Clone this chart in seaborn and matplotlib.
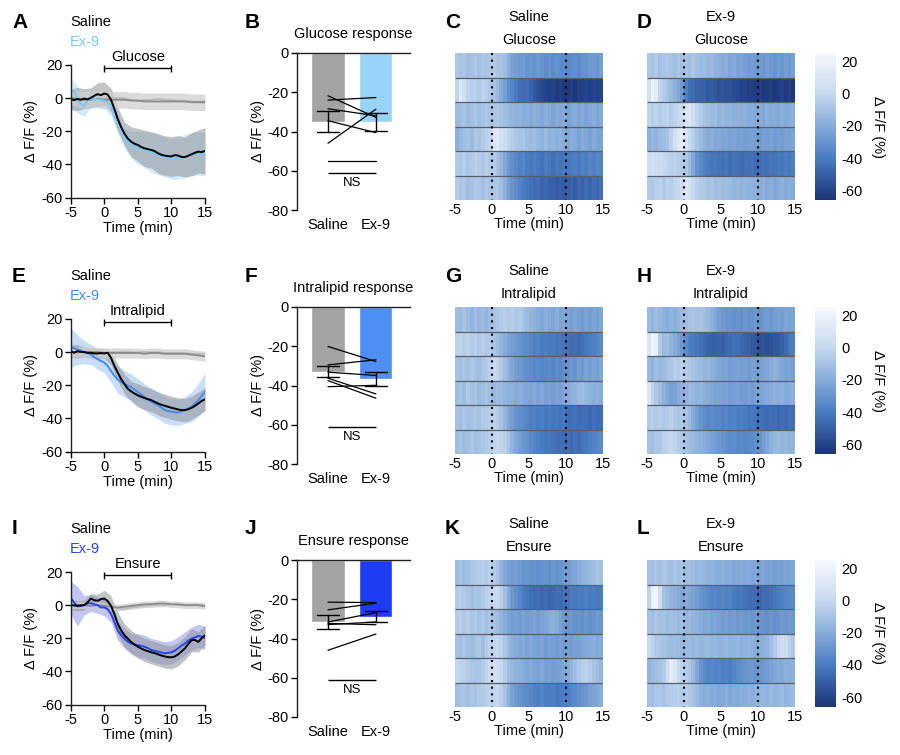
import numpy as np
import pandas as pd
import matplotlib
matplotlib.use('Agg')
import matplotlib.pyplot as plt
import seaborn as sns
from matplotlib.colors import LinearSegmentedColormap

# ---------------- data ----------------
t_fine = np.arange(-5, 15.01, 0.5)
t_coarse = np.arange(-5, 15.01, 1.0)

# traces (0.5 min steps), sem / controls (1 min steps)
glu_sal = [-0.6, -1.2, -0.5, -1.0, -0.3, -0.8, 0.2, 1.4, 2.4, 1.8, 2.8, 2.2, -1.0, -6.5, -12.5, -17.4, -21.4, -24.4,
           -26.3, -27.5, -28.3, -29.5, -30.3, -30.8, -31.3, -32.0, -33.3, -34.2, -34.7, -35.0, -35.2, -34.4, -34.7,
           -35.5, -35.6, -34.8, -33.9, -33.0, -32.3, -32.6, -31.9]
glu_ex9 = [3.0, 4.5, -1.0, -3.5, -5.0, -1.0, -0.5, -0.5, -0.8, -1.2, -1.6, -2.4, -4.6, -9.5, -15.4, -20.4, -24.4, -26.5,
           -28.3, -29.3, -29.9, -30.5, -31.0, -32.0, -32.9, -33.5, -34.3, -35.0, -35.8, -36.3, -36.8, -36.5, -36.0,
           -35.5, -35.0, -34.5, -34.0, -33.8, -33.5, -33.8, -33.9]
glu_sal_sem = [6, 7, 6, 6, 7, 7, 7, 7, 7, 9, 10, 11, 11, 12, 12, 12, 12, 12, 13, 13, 14]
glu_ex9_sem = [10, 8, 6, 5, 5, 5, 6, 6, 6, 8, 10, 11, 12, 12, 12, 12, 13, 13, 13, 13, 13]
glu_ctrl_a = [0, -0.5, -1, -1, -0.5, -1, -1, -1, -1, -1.5, -1.5, -2, -2, -2, -2, -2, -2, -2, -2.5, -2.5, -2.5]
glu_ctrl_b = [0, 0, 0, 0, 0, 0, 0.5, 0, 0, -1, -1.5, -1, -1, -0.5, -1, -1, -1.5, -1.5, -2, -2, -2]
glu_ctrl_sem = [4, 5, 5, 5, 5, 5, 5, 5, 5, 5, 5, 5, 5, 5, 5, 5, 5, 5, 5, 5, 5]

lip_sal = [0.6, -0.4, 0.6, 0.2, 0.0, -0.4, -0.4, -0.8, -0.8, -0.6, -0.8, -0.4, -3.4, -8.3, -12.3, -16.2, -19.2, -22.1,
           -23.7, -25.0, -26.1, -27.0, -27.7, -28.4, -29.0, -30.0, -31.0, -31.8, -32.4, -33.0, -33.6, -34.1, -34.6,
           -35.0, -35.0, -34.5, -33.6, -32.5, -31.0, -29.5, -28.5]
lip_ex9 = [2.6, 2.4, 1.6, 1.0, 0.0, -0.6, -1.4, -3.0, -4.3, -5.3, -6.3, -8.3, -11.3, -14.2, -16.6, -18.0, -19.2, -20.2,
           -21.1, -22.6, -24.1, -25.6, -27.1, -28.6, -30.0, -31.0, -32.0, -33.5, -35.0, -35.5, -36.0, -36.2, -36.4,
           -35.8, -35.0, -34.0, -33.0, -31.0, -29.0, -26.5, -23.7]
lip_sal_sem = [4, 4, 3, 3, 3, 3, 4, 5, 6, 6, 7, 7, 7, 7, 7, 7, 7, 7, 7, 7, 7]
lip_ex9_sem = [12, 9, 7, 6, 6, 6, 7, 8, 8, 8, 8, 8, 8, 8, 8, 8, 8, 8, 9, 10, 11]
lip_ctrl_a = [0, 0, 0, 0, 0, -0.5, -0.5, -0.5, -0.5, -0.5, -0.5, -1, -0.5, -0.5, -1, -1, -1, -1, -1.5, -2, -2.5]
lip_ctrl_b = [0, 0, 0, 0, 0, 0, 0, 0, 0.5, 0, 0, 0, 0, 0, -0.5, -0.5, -0.5, -0.5, -1, -1, -1]
lip_ctrl_sem = [3, 3, 3, 3, 3, 3, 3, 3, 3, 3, 3, 3, 3, 3, 3, 3, 3, 3, 3, 3, 3]

ens_sal = [0.0, -0.2, -0.4, -0.2, 0.0, 1.6, 4.0, 3.0, 2.6, 3.6, 4.0, 2.5, -0.4, -5.3, -11.3, -15.2, -18.2, -20.2,
           -22.2, -23.8, -25.1, -26.2, -27.1, -27.8, -28.5, -29.0, -29.7, -30.4, -31.0, -31.4, -31.5, -31.0, -29.7,
           -28.0, -26.1, -23.5, -21.2, -21.0, -22.2, -20.0, -18.2]
ens_ex9 = [4.6, 1.6, -0.8, -0.5, 0.0, 1.0, 1.2, 0.5, 0.0, -1.4, -1.4, -2.4, -5.3, -10.3, -15.2, -18.0, -20.2, -22.0,
           -23.2, -23.8, -24.2, -24.6, -25.1, -26.0, -27.1, -27.6, -28.1, -28.6, -29.1, -28.8, -28.5, -27.5, -26.1,
           -24.5, -23.2, -21.5, -20.2, -19.5, -18.6, -19.0, -19.8]
ens_sal_sem = [3, 3, 3, 3, 4, 5, 6, 7, 7, 7, 7, 7, 7, 7, 7, 7, 7, 7, 7, 6, 6]
ens_ex9_sem = [10, 12, 6, 5, 5, 5, 5, 6, 6, 6, 7, 7, 7, 7, 7, 7, 7, 7, 7, 7, 7]
ens_ctrl_a = [0, 0, 0, -0.5, 0, -0.5, -1, -1.5, -1, -0.5, 0, 0.5, 0.5, 1, 1, 0.5, 0.5, 0, 0, 0, -0.5]
ens_ctrl_b = [0, 0, 0, 0, 0, 0, -0.5, -2, -2.5, -1.5, -1, -0.5, 0, 0, 0, 0.5, 0, 0, 0, 0, -0.5]
ens_ctrl_sem = [2, 2, 2, 2, 2, 2, 2, 2, 2, 2, 2, 2, 2, 2, 2, 2, 2, 2, 2, 2, 2]

# paired responses per mouse
glu_resp_sal = [-21.8, -24.0, -28.4, -34.5, -46.0, -55.0]
glu_resp_ex9 = [-32.8, -22.7, -32.0, -40.6, -28.6, -55.0]
lip_resp_sal = [-20.1, -29.5, -33.2, -36.3, -37.5, -40.6]
lip_resp_ex9 = [-27.8, -26.9, -34.9, -44.3, -46.5, -39.9]
ens_resp_sal = [-21.5, -25.4, -31.6, -32.3, -32.9, -46.0]
ens_resp_ex9 = [-21.7, -22.0, -26.8, -33.0, -31.6, -37.7]

# heatmaps: 6 mice x 40 bins (0.5 min, -5 to 15 min)
glu_sal_heat = [
    [-8, -10, -9, -12, -10, -8, -11, -9, -10, -8, -7, -9, -10, -12, -18, -24, -26, -28, -27, -30,
     -29, -31, -28, -30, -32, -30, -33, -31, -34, -33, -35, -33, -32, -34, -31, -30, -28, -27, -29, -26],
    [-2, 12, 5, -3, -5, -4, -6, -3, -5, -8, -10, -14, -20, -26, -32, -36, -40, -44, -46, -45,
     -48, -52, -55, -58, -60, -62, -61, -63, -62, -64, -63, -62, -64, -61, -62, -60, -62, -59, -61, -60],
    [-14, -12, -10, -13, -11, -9, -12, -10, -8, -10, -9, -8, -10, -12, -14, -16, -18, -17, -20, -19,
     -21, -18, -20, -22, -19, -21, -23, -20, -22, -21, -24, -22, -20, -23, -21, -24, -22, -20, -23, -21],
    [-18, -15, -12, -10, -14, -8, -10, -6, -4, -2, 8, 12, 6, 2, -2, -5, -8, -10, -9, -12,
     -14, -12, -15, -17, -14, -18, -16, -19, -17, -20, -22, -19, -21, -24, -20, -22, -25, -21, -23, -24],
    [-6, -8, -5, -9, -7, -4, -6, -8, -5, -7, -6, -10, -15, -22, -28, -32, -35, -38, -36, -40,
     -42, -39, -41, -43, -40, -42, -44, -41, -43, -42, -42, -40, -38, -41, -37, -39, -36, -38, -35, -37],
    [-6, -9, -8, -12, -10, -7, -9, -11, -8, -10, -9, -8, -12, -18, -25, -30, -34, -37, -40, -42,
     -44, -46, -45, -48, -47, -50, -49, -51, -50, -52, -50, -48, -51, -47, -49, -46, -48, -45, -47, -44],
]
glu_ex9_heat = [
    [-8, -10, -7, -11, -9, -8, -10, -12, -9, -11, -10, -12, -9, -11, -13, -12, -15, -14, -17, -18,
     -20, -19, -22, -21, -24, -23, -25, -27, -26, -28, -27, -29, -26, -28, -30, -27, -29, -26, -28, -25],
    [5, 20, 14, -2, -6, -10, -14, -18, -22, -28, -38, -44, -46, -48, -50, -49, -52, -51, -53, -55,
     -54, -56, -55, -57, -58, -60, -59, -61, -62, -63, -62, -64, -63, -62, -64, -63, -61, -63, -62, -64],
    [-2, -5, -3, -6, -4, -2, -5, -3, -1, 2, 8, 10, 5, -2, -6, -10, -12, -14, -13, -16,
     -15, -17, -16, -18, -17, -19, -18, -20, -19, -21, -20, -22, -19, -21, -20, -22, -19, -21, -20, -18],
    [-18, -15, -17, -14, -12, -10, -4, 6, 12, 14, 8, 2, -4, -10, -14, -18, -20, -19, -22, -21,
     -23, -22, -24, -23, -25, -24, -26, -25, -24, -26, -27, -25, -26, -24, -27, -25, -26, -24, -25, -23],
    [4, 6, 3, 2, 0, -2, -4, -3, -5, -6, -8, -14, -22, -30, -35, -38, -40, -42, -41, -43,
     -44, -42, -45, -43, -44, -46, -44, -45, -43, -46, -45, -43, -44, -42, -43, -41, -42, -40, -41, -39],
    [-6, -8, -5, -4, -7, -3, -5, -2, 0, 4, 10, 6, 0, -4, -6, -8, -10, -9, -12, -11,
     -13, -12, -14, -16, -15, -17, -16, -18, -17, -19, -20, -18, -21, -19, -22, -20, -18, -21, -19, -20],
]
lip_sal_heat = [
    [-12, -14, -10, -13, -16, -12, -15, -14, -16, -13, -10, -8, -6, -5, -7, -5, -8, -6, -10, -14,
     -16, -18, -20, -22, -19, -21, -23, -20, -24, -22, -24, -26, -23, -25, -27, -24, -26, -23, -25, -22],
    [-4, -2, -5, -3, -6, -4, -7, -5, -8, -6, -9, -12, -16, -20, -24, -26, -28, -30, -32, -34,
     -36, -38, -37, -40, -39, -41, -40, -42, -41, -43, -44, -46, -45, -47, -44, -42, -40, -38, -36, -34],
    [-10, -12, -9, -11, -8, -10, -12, -9, -6, -4, 0, -2, -6, -12, -18, -22, -26, -28, -30, -32,
     -33, -35, -34, -36, -35, -34, -36, -33, -35, -32, -30, -28, -30, -26, -28, -24, -26, -23, -25, -22],
    [-12, -10, -13, -8, -11, -9, -14, -12, -10, -13, -15, -12, -14, -16, -18, -17, -20, -19, -21, -22,
     -23, -21, -24, -22, -25, -23, -26, -24, -25, -22, -20, -18, -16, -14, -12, -15, -17, -19, -18, -20],
    [-10, -12, -9, -11, -10, -8, -10, -7, -6, -5, -4, -6, -10, -16, -22, -26, -30, -32, -34, -36,
     -38, -37, -40, -39, -41, -40, -42, -41, -43, -42, -44, -45, -43, -46, -44, -45, -47, -44, -46, -45],
    [-12, -10, -13, -11, -9, -12, -10, -8, -7, -5, -2, 0, -2, -4, -10, -16, -22, -26, -29, -31,
     -34, -36, -38, -40, -42, -41, -43, -45, -44, -46, -45, -47, -44, -46, -43, -41, -39, -37, -36, -34],
]
lip_ex9_heat = [
    [-14, -16, -13, -15, -18, -20, -17, -19, -16, -14, -12, -10, -9, -11, -10, -12, -14, -18, -22, -26,
     -28, -30, -29, -31, -30, -32, -29, -31, -30, -28, -30, -28, -27, -29, -26, -24, -26, -23, -25, -24],
    [10, 22, 18, -6, -14, -12, -16, -20, -24, -28, -34, -38, -40, -42, -44, -46, -48, -50, -49, -48,
     -50, -47, -46, -44, -45, -47, -48, -50, -52, -53, -55, -54, -56, -55, -53, -52, -50, -46, -42, -40],
    [-14, -16, -12, -15, -13, -10, -8, -5, -6, -4, -6, -8, -10, -12, -14, -16, -15, -18, -20, -22,
     -24, -23, -26, -25, -24, -26, -25, -27, -24, -26, -25, -23, -22, -20, -18, -20, -22, -24, -23, -25],
    [10, -2, -8, -12, -18, -22, -25, -24, -20, -18, -16, -14, -15, -17, -16, -18, -20, -22, -24, -23,
     -25, -24, -26, -25, -24, -27, -26, -25, -27, -24, -23, -22, -21, -20, -18, -20, -19, -21, -20, -18],
    [-6, -4, -7, -5, -8, -6, -4, -7, -9, -8, -10, -14, -20, -26, -30, -33, -35, -34, -36, -35,
     -37, -36, -38, -37, -39, -38, -40, -42, -41, -43, -44, -45, -46, -44, -45, -47, -45, -46, -44, -45],
    [-10, -12, -9, -8, -4, -2, 0, -2, -5, -8, -10, -12, -14, -16, -18, -20, -22, -24, -26, -28,
     -30, -32, -34, -33, -35, -34, -36, -35, -34, -32, -30, -26, -22, -18, -15, -14, -16, -15, -17, -16],
]
ens_sal_heat = [
    [-12, -10, -13, -11, -9, -8, -6, -5, -7, -4, -6, -10, -16, -22, -25, -27, -26, -28, -30, -29,
     -31, -30, -32, -31, -30, -32, -29, -31, -30, -28, -26, -24, -22, -20, -18, -16, -14, -12, -10, -11],
    [-6, -4, -7, -9, -11, -8, -10, -7, -4, -2, 0, 2, -4, -12, -20, -28, -32, -36, -40, -42,
     -44, -46, -45, -47, -46, -48, -47, -45, -46, -44, -42, -40, -41, -39, -40, -38, -40, -39, -41, -40],
    [-6, -4, -8, -5, -9, -7, -10, -8, -11, -9, -10, -12, -16, -20, -24, -26, -25, -27, -24, -26,
     -25, -23, -26, -24, -22, -20, -18, -20, -24, -28, -30, -29, -31, -30, -32, -29, -31, -30, -28, -29],
    [-10, -12, -9, -11, -13, -10, -8, -12, -6, -4, -2, 0, -3, -8, -14, -18, -20, -22, -21, -23,
     -22, -24, -25, -23, -26, -24, -25, -26, -24, -27, -25, -26, -24, -25, -22, -21, -20, -19, -21, -20],
    [0, -2, -4, -6, -8, -10, -9, -6, -2, 2, 5, 4, 0, -6, -12, -15, -17, -18, -20, -22,
     -21, -23, -24, -22, -25, -24, -26, -25, -24, -22, -20, -16, -12, -8, -5, -4, -6, -10, -12, -15],
    [-12, -10, -9, -11, -8, -10, -7, -6, -4, -3, -2, 0, -4, -10, -18, -24, -28, -30, -32, -34,
     -35, -37, -38, -36, -39, -40, -38, -41, -40, -39, -38, -36, -34, -32, -30, -28, -25, -23, -22, -20],
]
ens_ex9_heat = [
    [-10, -12, -9, -11, -8, -10, -12, -9, -11, -10, -12, -11, -13, -15, -14, -16, -18, -17, -19, -20,
     -19, -21, -20, -22, -21, -20, -22, -21, -23, -22, -24, -23, -25, -24, -26, -24, -25, -23, -24, -22],
    [-2, 18, 22, 4, -10, -14, -16, -18, -20, -22, -20, -22, -24, -26, -30, -32, -34, -36, -35, -37,
     -36, -38, -37, -40, -42, -41, -43, -44, -45, -46, -47, -45, -46, -44, -42, -40, -38, -36, -35, -34],
    [-10, -12, -9, -11, -10, -13, -11, -12, -14, -13, -15, -14, -16, -18, -20, -22, -21, -24, -23, -25,
     -26, -25, -27, -26, -28, -27, -29, -28, -30, -29, -31, -30, -32, -29, -31, -30, -28, -29, -27, -28],
    [2, -2, -6, -8, -10, -12, -14, -12, -13, -15, -14, -13, -15, -14, -16, -15, -14, -16, -15, -17,
     -16, -15, -17, -16, -15, -18, -17, -16, -18, -20, -19, -18, -16, -12, -6, 0, 4, 2, -4, -8],
    [-16, -14, -12, -10, -6, 4, 14, 10, 0, -4, -6, -8, -14, -22, -30, -34, -36, -35, -37, -36,
     -38, -37, -39, -36, -34, -32, -30, -29, -28, -30, -29, -28, -26, -24, -22, -20, -21, -19, -20, -18],
    [-10, -12, -9, -8, -10, -7, -6, -5, -4, -6, -5, -7, -10, -14, -18, -20, -19, -21, -20, -22,
     -21, -19, -22, -20, -21, -19, -20, -18, -19, -17, -16, -15, -17, -14, -16, -15, -14, -16, -15, -13],
]

stimuli = ['Glucose', 'Intralipid', 'Ensure']
ex9_line_colors = ['#78c8f5', '#3f8cf0', '#2343f0']
ex9_band_colors = ['#d3eaf9', '#c9ddf8', '#c3c6f0']
ex9_bar_colors = ['#9ad3fa', '#4d8ff5', '#1f3cf5']
saline_gray = '#a3a3a3'

# ---------------- style ----------------
sns.set_style('ticks')
plt.rcParams['font.family'] = ['Liberation Sans', 'DejaVu Sans']
plt.rcParams['font.size'] = 10.5
plt.rcParams['axes.unicode_minus'] = False
plt.rcParams['axes.linewidth'] = 1.0
plt.rcParams['axes.edgecolor'] = '#222222'
for k in ['text.color', 'axes.labelcolor', 'xtick.color', 'ytick.color']:
    plt.rcParams[k] = 'black'

cmap = LinearSegmentedColormap.from_list('dff', [
    (0.0, '#1c3573'), (0.066, '#24448a'), (0.286, '#4a7cc2'),
    (0.505, '#86acd9'), (0.725, '#c6d9ef'), (1.0, '#f7f9fd')])

W, H = 900, 755
fig = plt.figure(figsize=(9, 7.55), dpi=100)


def box(x0, y0, x1, y1):
    return fig.add_axes([x0 / W, 1 - y1 / H, (x1 - x0) / W, (y1 - y0) / H])


def ftext(x, y, s, **kw):
    fig.text(x / W, 1 - y / H, s, **kw)


def trace_panel(ax, sal, ex9, sal_sem, ex9_sem, ca, cb, c_sem, i):
    sal = np.array(sal); ex9 = np.array(ex9)
    ca = np.array(ca); cb = np.array(cb)
    ax.fill_between(t_coarse, ex9[::2] - ex9_sem, ex9[::2] + ex9_sem, color=ex9_band_colors[i], lw=0)
    ax.fill_between(t_coarse, sal[::2] - sal_sem, sal[::2] + sal_sem, color='#8f949a', alpha=0.55, lw=0)
    ax.fill_between(t_coarse, ca - c_sem, ca + c_sem, color='#cfcfcf', alpha=0.75, lw=0)
    sns.lineplot(x=t_coarse, y=cb, color='#bdbdbd', lw=1.3, ax=ax)
    sns.lineplot(x=t_coarse, y=ca, color='#8a8a8a', lw=1.3, ax=ax)
    sns.lineplot(x=t_fine, y=ex9, color=ex9_line_colors[i], lw=1.4, ax=ax)
    sns.lineplot(x=t_fine, y=sal, color='black', lw=1.4, ax=ax)
    ax.set_xlim(-5, 15)
    ax.set_ylim(-60, 20)
    ax.set_xticks([-5, 0, 5, 10, 15])
    ax.set_yticks([20, 0, -20, -40, -60])
    ax.tick_params(direction='out', length=4, width=1, pad=2)
    ax.set_xlabel('Time (min)', labelpad=1)
    ax.set_ylabel('Δ F/F (%)', labelpad=2)
    sns.despine(ax=ax)
    # stimulus bar
    ax.hlines(18, 0, 10, color='black', lw=1, clip_on=False)
    ax.vlines([0, 10], 16, 20, color='black', lw=1, clip_on=False)
    ax.text(5, 20.5, stimuli[i], ha='center', va='bottom')


def bar_panel(ax, sal, ex9, i):
    df = pd.DataFrame({'cond': ['Saline'] * len(sal) + ['Ex-9'] * len(ex9),
                       'value': list(sal) + list(ex9)})
    sns.barplot(data=df, x='cond', y='value', hue='cond', order=['Saline', 'Ex-9'],
                palette={'Saline': saline_gray, 'Ex-9': ex9_bar_colors[i]}, saturation=1,
                errorbar='se', capsize=0.45, err_kws={'color': 'black', 'linewidth': 1},
                width=0.69, legend=False, ax=ax)
    for s, e in zip(sal, ex9):
        ax.plot([0, 1], [s, e], color='black', lw=0.9)
    ax.hlines(-61, 0, 1, color='black', lw=1)
    ax.text(0.5, -63, 'NS', ha='center', va='top', fontsize=9.5)
    ax.set_xlim(-0.646, 1.71)
    ax.set_ylim(-80, 0)
    ax.set_yticks([0, -20, -40, -60, -80])
    ax.set_xlabel('')
    ax.set_ylabel('Δ F/F (%)', labelpad=2)
    ax.spines['bottom'].set_visible(False)
    ax.spines['right'].set_visible(False)
    ax.tick_params(axis='y', direction='out', length=4, width=1, pad=2)
    ax.tick_params(axis='x', length=0, pad=6)
    ax.set_title(stimuli[i] + ' response', pad=11, fontsize=10.5)


def heat_panel(ax, rows, cax=None):
    mat = np.array(rows)
    sns.heatmap(mat, ax=ax, cmap=cmap, vmin=-66, vmax=25, cbar=cax is not None, cbar_ax=cax,
                xticklabels=False, yticklabels=False)
    ax.hlines(np.arange(1, mat.shape[0]), 0, mat.shape[1], colors='#59606c', lw=0.9)
    ax.vlines([10, 30], 0, mat.shape[0], colors='black', linestyles=(0, (1, 2.2)), lw=1.5)
    ax.set_xticks([0, 10, 20, 30, 40])
    ax.set_xticklabels(['-5', '0', '5', '10', '15'], rotation=0)
    ax.tick_params(axis='x', length=0, pad=2)
    ax.set_xlabel('Time (min)', labelpad=0)
    if cax is not None:
        cax.set_yticks([20, 0, -20, -40, -60])
        cax.tick_params(length=0, pad=4)
        cax.set_ylabel('Δ F/F (%)', rotation=270, labelpad=16)


traces = [(glu_sal, glu_ex9, glu_sal_sem, glu_ex9_sem, glu_ctrl_a, glu_ctrl_b, glu_ctrl_sem),
          (lip_sal, lip_ex9, lip_sal_sem, lip_ex9_sem, lip_ctrl_a, lip_ctrl_b, lip_ctrl_sem),
          (ens_sal, ens_ex9, ens_sal_sem, ens_ex9_sem, ens_ctrl_a, ens_ctrl_b, ens_ctrl_sem)]
responses = [(glu_resp_sal, glu_resp_ex9), (lip_resp_sal, lip_resp_ex9), (ens_resp_sal, ens_resp_ex9)]
heats = [(glu_sal_heat, glu_ex9_heat), (lip_sal_heat, lip_ex9_heat), (ens_sal_heat, ens_ex9_heat)]
letters = ['ABCD', 'EFGH', 'IJKL']
row_off = [0, 254, 507]

for i in range(3):
    o = row_off[i]
    ax_t = box(70.7, 65 + o, 205, 197.5 + o)
    trace_panel(ax_t, *traces[i], i)
    ftext(70, 22 + o, 'Saline', ha='left', va='center')
    ftext(70, 42 + o, 'Ex-9', ha='left', va='center', color=ex9_line_colors[i])

    ax_b = box(297, 53 + o, 410, 210 + o)
    bar_panel(ax_b, *responses[i], i)

    ax_c = box(455, 53 + o, 603, 200 + o)
    ax_d = box(647, 53 + o, 795, 200 + o)
    cax = box(815, 53 + o, 836, 200 + o)
    heat_panel(ax_c, heats[i][0])
    heat_panel(ax_d, heats[i][1], cax=cax)
    ftext(529, 17 + o, 'Saline', ha='center', va='center')
    ftext(529, 40 + o, stimuli[i], ha='center', va='center')
    ftext(721, 17 + o, 'Ex-9', ha='center', va='center')
    ftext(721, 40 + o, stimuli[i], ha='center', va='center')

    for x, L in zip([12, 245, 445, 637], letters[i]):
        ftext(x, 22 + o, L, ha='left', va='center', fontsize=15, fontweight='bold')

fig.savefig('out.png', dpi=100)
